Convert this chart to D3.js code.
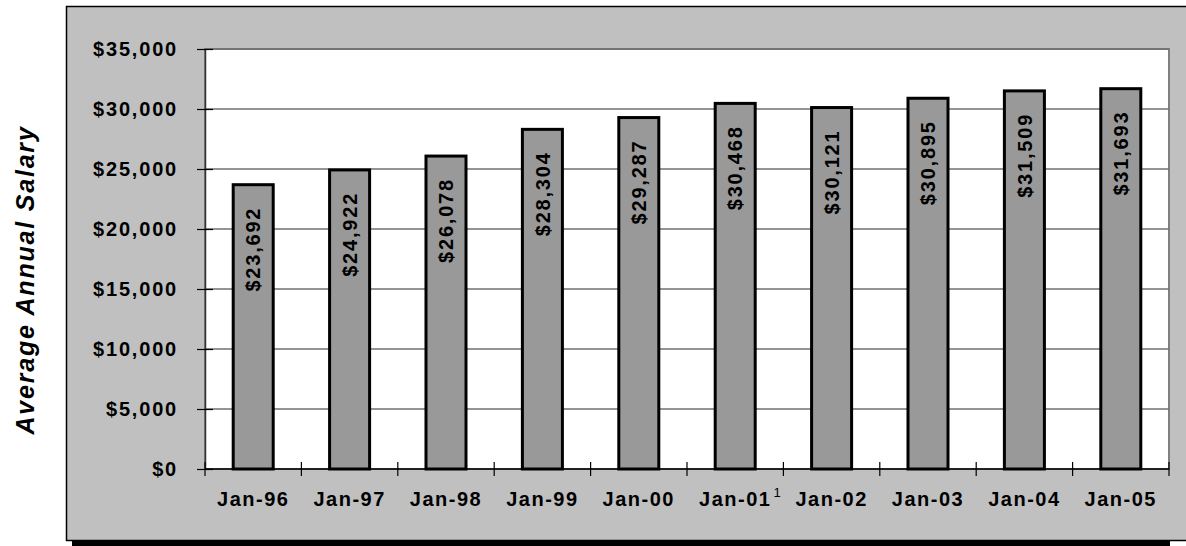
<!DOCTYPE html>
<html>
<head>
<meta charset="utf-8">
<script src="https://cdn.jsdelivr.net/npm/d3@7"></script>
<style>
html,body{margin:0;padding:0;background:#fff;}
svg{display:block;font-family:"Liberation Sans",Arial,sans-serif;}
</style>
</head>
<body>
<svg id="chart" width="1186" height="546"></svg>
<script>
const categories = ["Jan-96","Jan-97","Jan-98","Jan-99","Jan-00","Jan-01","Jan-02","Jan-03","Jan-04","Jan-05"];
const salaries = [23692,24922,26078,28304,29287,30468,30121,30895,31509,31693];
const yTicks = [0,5000,10000,15000,20000,25000,30000,35000];
const footnotes = ["","","","","","1","","","",""];
const yTitle = "Average Annual Salary";

const svg = d3.select("#chart");
const plot = {left:205, right:1169, top:49, bottom:469};

// outer panel shadow + panel
svg.append("rect").attr("x",72).attr("y",538).attr("width",1098).attr("height",8).attr("fill","#000");
svg.append("rect").attr("x",66.5).attr("y",6.5).attr("width",1130).attr("height",534)
  .attr("fill","#c0c0c0").attr("stroke","#000").attr("stroke-width",1.5);

const x = d3.scaleBand().domain(categories).range([plot.left, plot.right]).padding(0);
const y = d3.scaleLinear().domain([0,35000]).range([plot.bottom, plot.top]);
const fmt = d => "$" + d3.format(",")(d);

// plot area
svg.append("rect").attr("x",plot.left).attr("y",plot.top)
  .attr("width",plot.right-plot.left).attr("height",plot.bottom-plot.top)
  .attr("fill","#fff").attr("stroke","#808080").attr("stroke-width",2);

// gridlines
svg.append("g").selectAll("line").data(yTicks.filter(t=>t>0)).join("line")
  .attr("x1",plot.left).attr("x2",plot.right)
  .attr("y1",d=>y(d)).attr("y2",d=>y(d))
  .attr("stroke","#707070").attr("stroke-width",1.5);

// y axis
const yAxis = svg.append("g").attr("transform",`translate(${plot.left},0)`)
  .call(d3.axisLeft(y).tickValues(yTicks).tickFormat(fmt).tickSize(0).tickPadding(27));
yAxis.select(".domain").attr("stroke","#333").attr("stroke-width",1.5);
yAxis.selectAll(".tick text").attr("font-size",20).attr("font-weight","bold")
  .attr("fill","#000").attr("letter-spacing","1.8px").attr("dy","0.3em")
  .attr("font-family","'Liberation Sans',Arial,sans-serif");
yAxis.selectAll(".tick").append("line").attr("x1",-8).attr("x2",8)
  .attr("stroke","#000").attr("stroke-width",1.2);

// bars
const barW = x.bandwidth()*0.415;
svg.append("g").selectAll("rect").data(salaries).join("rect")
  .attr("x",(d,i)=>x(categories[i]) + (x.bandwidth()-barW)/2)
  .attr("y",d=>y(d))
  .attr("width",barW)
  .attr("height",d=>y(0)-y(d))
  .attr("fill","#999999").attr("stroke","#000").attr("stroke-width",3);

// bar labels
svg.append("g").selectAll("text").data(salaries).join("text")
  .attr("transform",(d,i)=>`translate(${x(categories[i])+x.bandwidth()/2},${y(d)+22}) rotate(-90)`)
  .attr("text-anchor","end").attr("dy","0.36em")
  .attr("font-size",20).attr("font-weight","bold").attr("letter-spacing","1.8px")
  .attr("fill","#000").text(fmt);

// x axis
const xAxis = svg.append("g").attr("transform",`translate(0,${plot.bottom})`);
xAxis.append("line").attr("x1",plot.left).attr("x2",plot.right)
  .attr("stroke","#000").attr("stroke-width",1.5);
const bounds = categories.map(c=>x(c)).concat([plot.right]);
xAxis.selectAll("line.tk").data(bounds).join("line").attr("class","tk")
  .attr("x1",d=>d).attr("x2",d=>d).attr("y1",-7).attr("y2",7)
  .attr("stroke","#000").attr("stroke-width",1.2);
const xl = xAxis.selectAll("g.lab").data(categories).join("g").attr("class","lab")
  .attr("transform",c=>`translate(${x(c)+x.bandwidth()/2},37)`);
xl.append("text").attr("text-anchor","middle")
  .attr("font-size",20).attr("font-weight","bold").attr("letter-spacing","1.5px")
  .attr("fill","#000").text(c=>c)
  .each(function(c,i){
    if(footnotes[i]){
      const w = this.getComputedTextLength();
      d3.select(this.parentNode).append("text")
        .attr("x", w/2 + 2).attr("y",-9)
        .attr("font-size",13).attr("fill","#000").text(footnotes[i]);
    }
  });

// y title
svg.append("text")
  .attr("transform",`translate(34,280) rotate(-90)`)
  .attr("text-anchor","middle")
  .attr("font-size",25).attr("font-weight","bold").attr("font-style","italic")
  .attr("letter-spacing","1.8px").attr("fill","#000")
  .text(yTitle);
</script>
</body>
</html>
